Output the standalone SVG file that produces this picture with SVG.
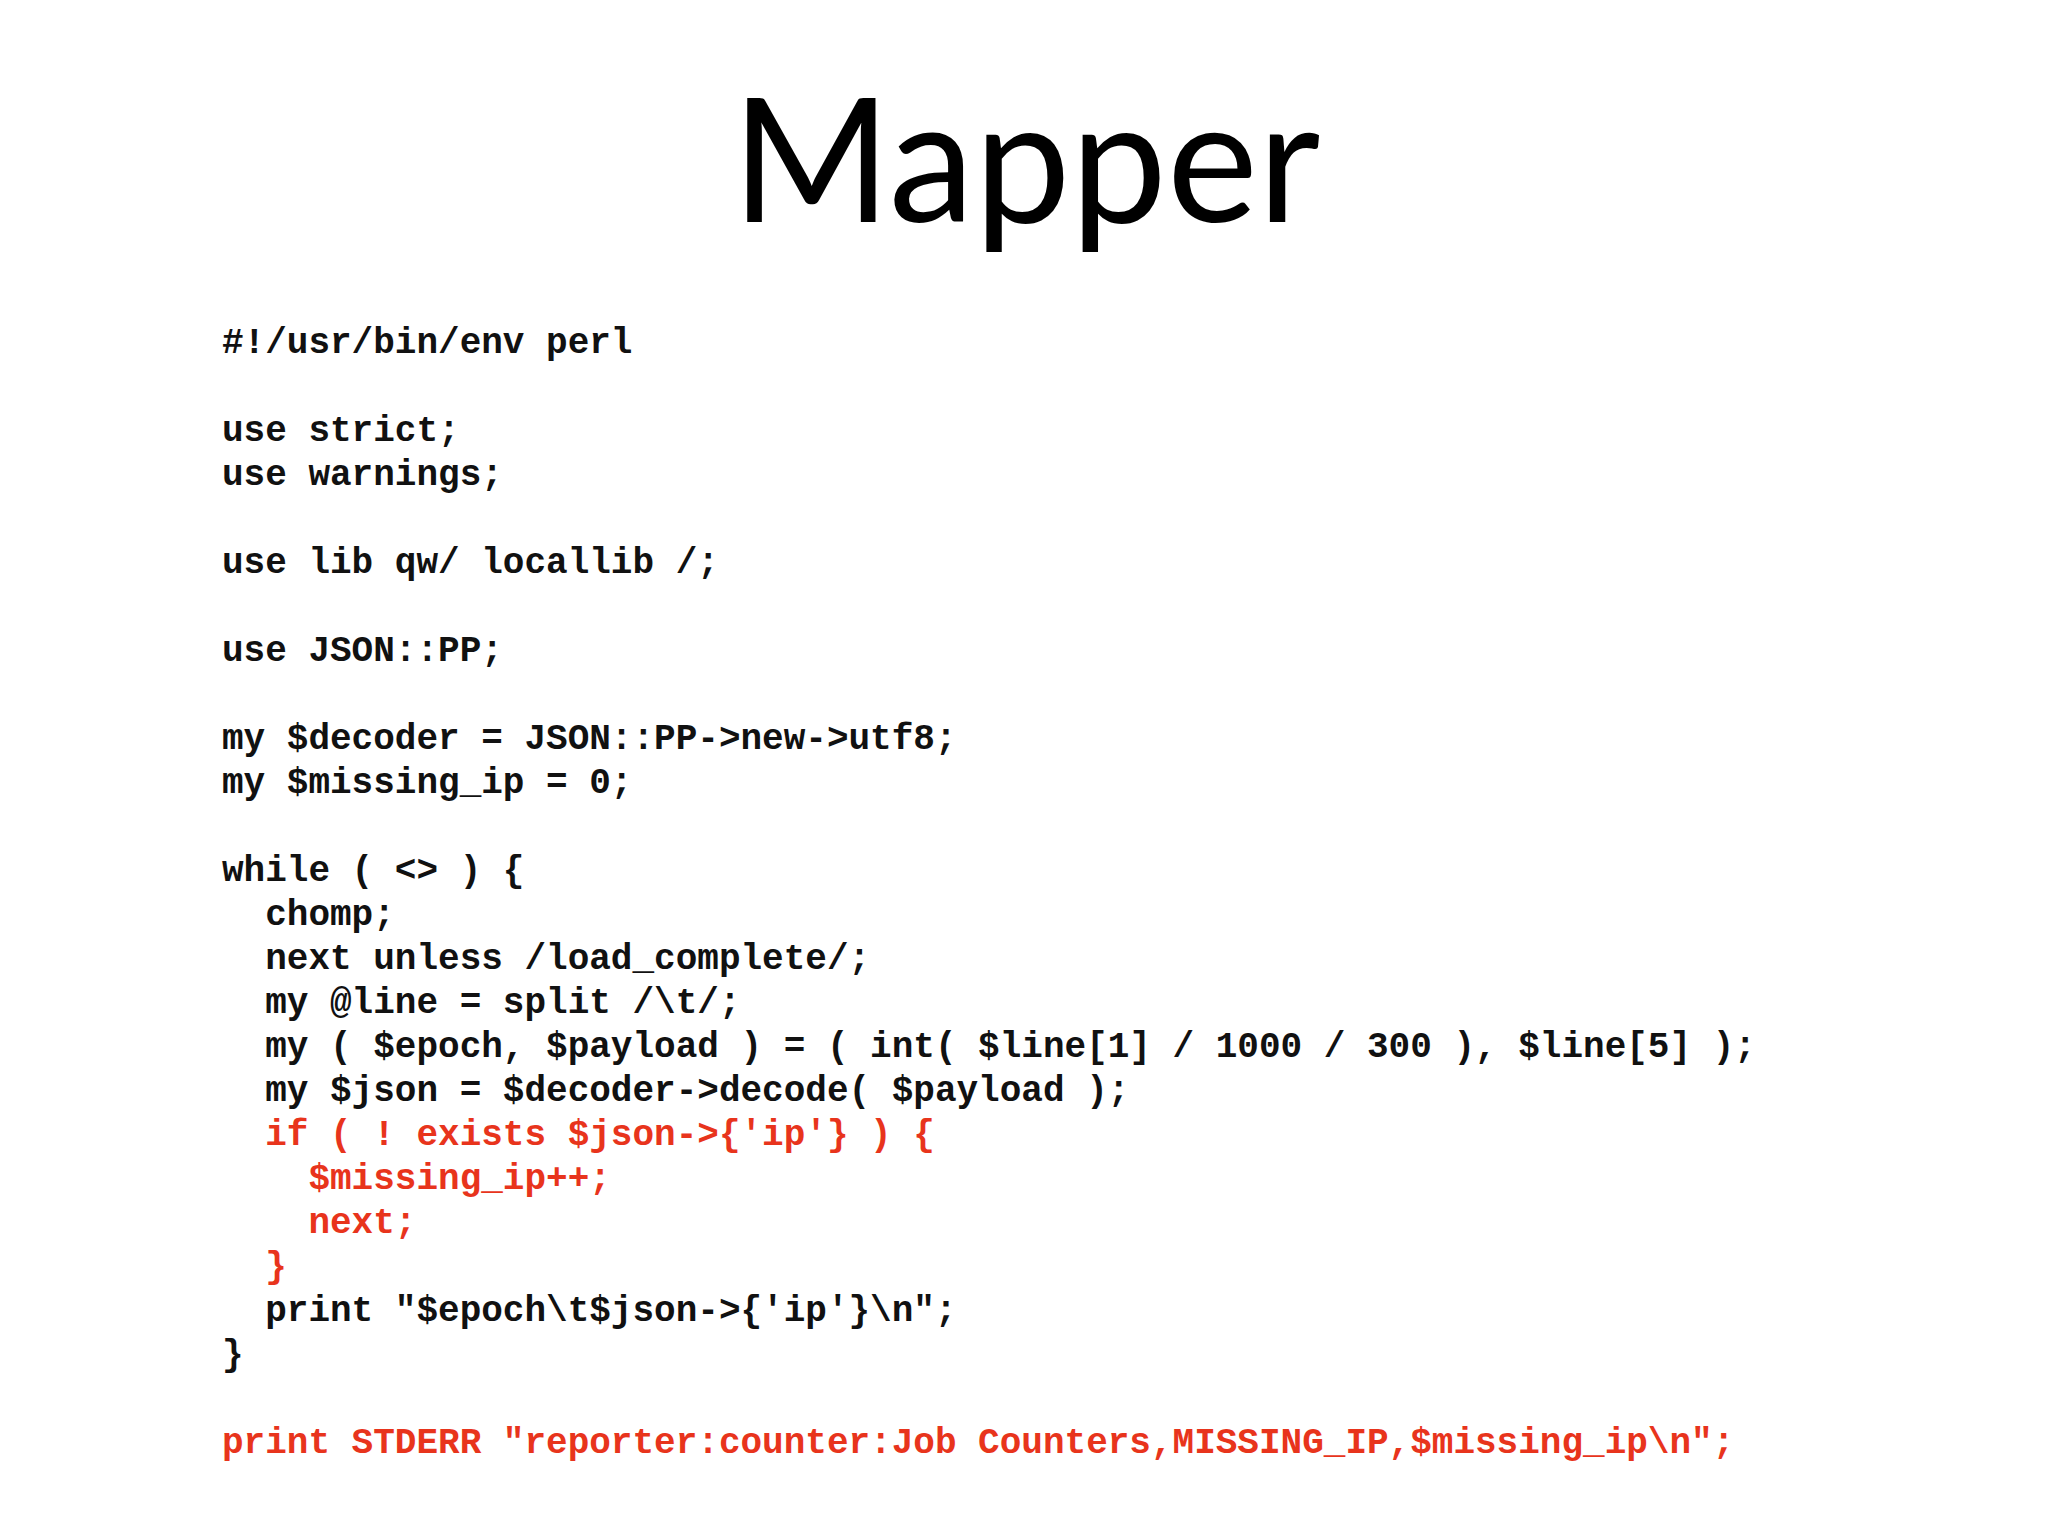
<svg xmlns="http://www.w3.org/2000/svg" width="2048" height="1536" viewBox="0 0 2048 1536">
<style>
.c{font-family:"Liberation Mono","Courier New",monospace;font-weight:bold;font-size:36px;fill:#111;white-space:pre}
.r{fill:#e8341c}
.t{font-family:Lato,"Open Sans",sans-serif;font-size:172px;fill:#000}
</style>
<rect width="2048" height="1536" fill="#fff"/>
<g id="title"><text class="t" x="1026" y="222" text-anchor="middle">Mapper</text></g>
<g id="code" xml:space="preserve">
<text class="c" x="222" y="353">#!/usr/bin/env perl</text>
<text class="c" x="222" y="441">use strict;</text>
<text class="c" x="222" y="485">use warnings;</text>
<text class="c" x="222" y="573">use lib qw/ locallib /;</text>
<text class="c" x="222" y="661">use JSON::PP;</text>
<text class="c" x="222" y="749">my $decoder = JSON::PP-&gt;new-&gt;utf8;</text>
<text class="c" x="222" y="793">my $missing_ip = 0;</text>
<text class="c" x="222" y="881">while ( &lt;&gt; ) {</text>
<text class="c" x="222" y="925">  chomp;</text>
<text class="c" x="222" y="969">  next unless /load_complete/;</text>
<text class="c" x="222" y="1013">  my @line = split /\t/;</text>
<text class="c" x="222" y="1057">  my ( $epoch, $payload ) = ( int( $line[1] / 1000 / 300 ), $line[5] );</text>
<text class="c" x="222" y="1101">  my $json = $decoder-&gt;decode( $payload );</text>
<text class="c r" x="222" y="1145">  if ( ! exists $json-&gt;{'ip'} ) {</text>
<text class="c r" x="222" y="1189">    $missing_ip++;</text>
<text class="c r" x="222" y="1233">    next;</text>
<text class="c r" x="222" y="1277">  }</text>
<text class="c" x="222" y="1321">  print "$epoch\t$json-&gt;{'ip'}\n";</text>
<text class="c" x="222" y="1365">}</text>
<text class="c r" x="222" y="1453">print STDERR "reporter:counter:Job Counters,MISSING_IP,$missing_ip\n";</text>
</g>
</svg>
